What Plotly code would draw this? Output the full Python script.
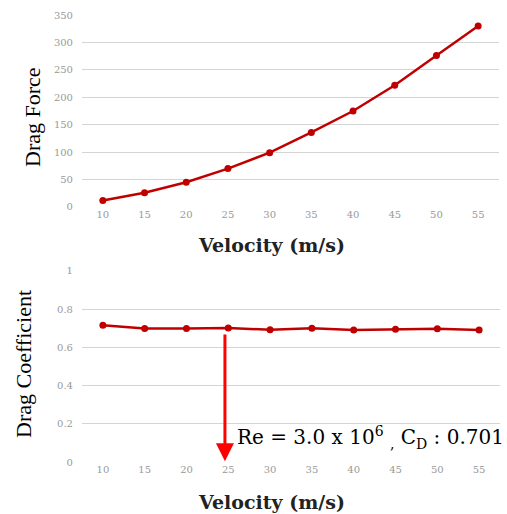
import plotly.graph_objects as go

velocity = [10, 15, 20, 25, 30, 35, 40, 45, 50, 55]
drag_force = [12, 26, 45, 70, 99, 136, 175, 222, 276, 330]
drag_coef = [0.715, 0.698, 0.698, 0.701, 0.692, 0.700, 0.690, 0.694, 0.697, 0.690]
force_ticks = [0, 50, 100, 150, 200, 250, 300, 350]
coef_ticks = [0, 0.2, 0.4, 0.6, 0.8, 1]

red = "#c00000"
serif = "Liberation Serif, Times New Roman, serif"
wide_serif = "DejaVu Serif, serif"

fig = go.Figure()
fig.add_trace(go.Scatter(x=velocity, y=drag_force, mode="lines+markers",
                         line=dict(color=red, width=2.5), marker=dict(color=red, size=7),
                         xaxis="x", yaxis="y", showlegend=False))
fig.add_trace(go.Scatter(x=velocity, y=drag_coef, mode="lines+markers",
                         line=dict(color=red, width=2.5), marker=dict(color=red, size=7),
                         xaxis="x2", yaxis="y2", showlegend=False))

tickfont = dict(family=wide_serif, size=10, color="#999999")
xcommon = dict(range=[7.5, 57.5], tickvals=velocity, showgrid=False, zeroline=False,
               showline=False, ticks="", tickfont=tickfont, automargin=False)
ycommon = dict(showgrid=True, gridcolor="#d4d4d4", gridwidth=1, zeroline=False,
               showline=False, ticks="", tickfont=tickfont, ticklabelstandoff=8,
               automargin=False)

fig.update_layout(
    width=507, height=514,
    margin=dict(l=0, r=0, t=0, b=0, autoexpand=False),
    paper_bgcolor="white", plot_bgcolor="white",
    xaxis=dict(domain=[0.1617, 0.9842], anchor="y", **xcommon),
    yaxis=dict(domain=[0.5973, 0.9708], anchor="x", range=[0, 350], tickvals=force_ticks, **ycommon),
    xaxis2=dict(domain=[0.1617, 0.9862], anchor="y2", **xcommon),
    yaxis2=dict(domain=[0.1006, 0.4733], anchor="x2", range=[0, 1], tickvals=coef_ticks,
                ticktext=["0", "0.2", "0.4", "0.6", "0.8", "1"], **ycommon),
)

annos = [
    dict(text="Drag Force", xref="paper", yref="paper", x=33/507, y=1-117/514,
         xanchor="center", yanchor="middle",
         textangle=-90, showarrow=False, font=dict(family=serif, size=22, color="black")),
    dict(text="Drag Coefficient", xref="paper", yref="paper", x=23/507, y=1-364/514,
         xanchor="center", yanchor="middle",
         textangle=-90, showarrow=False, font=dict(family=serif, size=22, color="black")),
    dict(text="<b>Velocity (m/s)</b>", xref="paper", yref="paper", x=271/507, y=1-245/514,
         xanchor="center", yanchor="middle",
         showarrow=False, font=dict(family=wide_serif, size=19, color="#222")),
    dict(text="<b>Velocity (m/s)</b>", xref="paper", yref="paper", x=271/507, y=1-502/514,
         xanchor="center", yanchor="middle",
         showarrow=False, font=dict(family=wide_serif, size=19, color="#222")),
    dict(x=24.6, y=0.005, ax=24.6, ay=0.675, xref="x2", yref="y2", axref="x2", ayref="y2",
         text="", showarrow=True, arrowhead=2, arrowsize=1.2, arrowwidth=3, arrowcolor="#ff0000"),
    dict(text="Re = 3.0 x 10<sup>6</sup> <sub>,</sub> C<sub>D</sub> : 0.701",
         x=25.8, y=0.132, xref="x2", yref="y2", xanchor="left", yanchor="middle",
         showarrow=False, font=dict(family=wide_serif, size=20, color="black")),
]
fig.update_layout(annotations=annos)

fig.write_html("out.html", config={"displayModeBar": False},
               post_script="document.body.style.margin='0px';")
